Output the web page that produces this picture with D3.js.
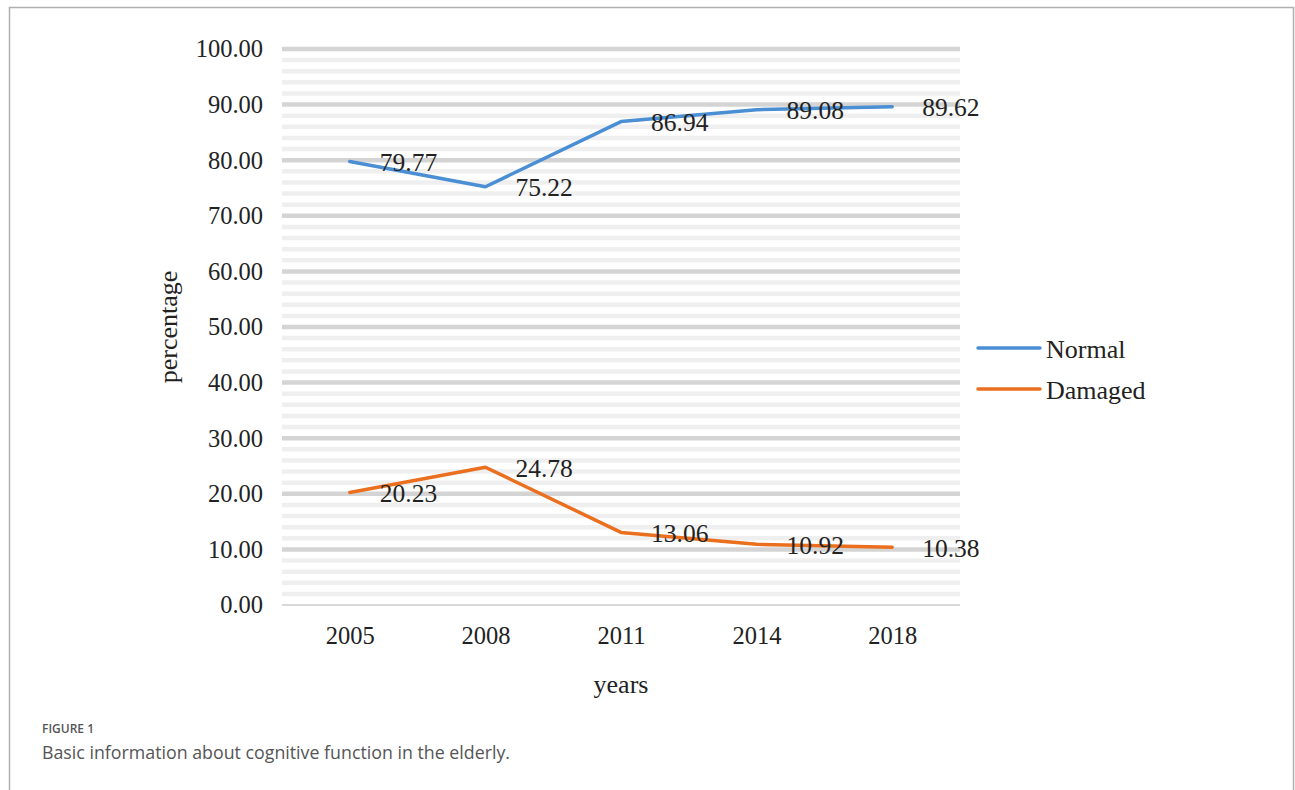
<!DOCTYPE html>
<html>
<head>
<meta charset="utf-8">
<script src="https://cdn.jsdelivr.net/npm/d3@7"></script>
<style>
  body { margin: 0; background: #fff; }
  svg { display: block; }
</style>
</head>
<body>
<div id="chart"></div>
<script>
// data
var years = ["2005", "2008", "2011", "2014", "2018"];
var normal = [79.77, 75.22, 86.94, 89.08, 89.62];
var damaged = [20.23, 24.78, 13.06, 10.92, 10.38];
var seriesNames = ["Normal", "Damaged"];
var yTicks = [0, 10, 20, 30, 40, 50, 60, 70, 80, 90, 100];

var W = 1295, H = 790;
var margin = { left: 282, right: 335, top: 49, bottom: 185 };
var width = W - margin.left - margin.right,
    height = H - margin.top - margin.bottom;
var colors = { normal: "#4a8ed4", damaged: "#ea6f1e" };
var serif = "'Liberation Serif', 'Times New Roman', serif";

var svg = d3.select("#chart").append("svg")
    .attr("width", W).attr("height", H);

// frame around the figure
svg.append("path")
    .attr("d", "M9.5," + (H + 5) + " V7.5 H1293.5 V" + (H + 5))
    .attr("fill", "none").attr("stroke", "#b0b0b0").attr("stroke-width", 1.5);

var g = svg.append("g")
    .attr("transform", "translate(" + margin.left + "," + margin.top + ")");

var x = d3.scalePoint().domain(years).range([0, width]).padding(0.5);
var y = d3.scaleLinear().domain([0, 100]).range([height, 0]);

// minor gridlines every 2, major every 10
var minor = d3.range(2, 100, 2).filter(function (v) { return v % 10 !== 0; });
g.append("g").selectAll("line.minor")
    .data(minor).enter().append("line")
    .attr("x1", 0).attr("x2", width)
    .attr("y1", function (d) { return y(d); })
    .attr("y2", function (d) { return y(d); })
    .attr("stroke", "#efefef").attr("stroke-width", 4.5);
g.append("g").selectAll("line.major")
    .data(yTicks.filter(function (v) { return v > 0; })).enter().append("line")
    .attr("x1", 0).attr("x2", width)
    .attr("y1", function (d) { return y(d); })
    .attr("y2", function (d) { return y(d); })
    .attr("stroke", "#d4d4d4").attr("stroke-width", 4.5);

// baseline
g.append("line")
    .attr("x1", 0).attr("x2", width)
    .attr("y1", y(0)).attr("y2", y(0))
    .attr("stroke", "#d9d9d9").attr("stroke-width", 2);

// Y axis labels
var yAxis = g.append("g")
    .call(d3.axisLeft(y).tickValues(yTicks).tickSize(0).tickPadding(19)
        .tickFormat(d3.format(".2f")));
yAxis.select(".domain").remove();
yAxis.selectAll("text")
    .style("font-family", serif).style("font-size", "24.5px").attr("fill", "#222");

// X axis labels
var xAxis = g.append("g")
    .attr("transform", "translate(0," + height + ")")
    .call(d3.axisBottom(x).tickSize(0).tickPadding(22));
xAxis.select(".domain").remove();
xAxis.selectAll("text")
    .style("font-family", serif).style("font-size", "24.5px").attr("fill", "#222");

// axis titles
g.append("text")
    .attr("x", width / 2).attr("y", height + 88)
    .attr("text-anchor", "middle")
    .style("font-family", serif).style("font-size", "26px").attr("fill", "#222")
    .text("years");
g.append("text")
    .attr("transform", "translate(" + (168 - margin.left) + "," + (327 - margin.top) + ") rotate(-90)")
    .attr("text-anchor", "middle").attr("dominant-baseline", "central")
    .style("font-family", serif).style("font-size", "26px").attr("fill", "#222")
    .text("percentage");

var line = d3.line()
    .x(function (d, i) { return x(years[i]); })
    .y(function (d) { return y(d); });

var series = [
    { name: seriesNames[0], values: normal, color: colors.normal },
    { name: seriesNames[1], values: damaged, color: colors.damaged }
];

series.forEach(function (s) {
    g.append("path")
        .datum(s.values)
        .attr("d", line)
        .attr("fill", "none")
        .attr("stroke", s.color)
        .attr("stroke-width", 3.5)
        .attr("stroke-linejoin", "round")
        .attr("stroke-linecap", "round");
    g.append("g").selectAll("text")
        .data(s.values).enter().append("text")
        .attr("x", function (d, i) { return x(years[i]) + 30; })
        .attr("y", function (d) { return y(d) + 1; })
        .attr("dominant-baseline", "central")
        .style("font-family", serif).style("font-size", "25.5px").attr("fill", "#222")
        .text(function (d) { return d3.format(".2f")(d); });
});

// legend
var legend = svg.append("g").attr("transform", "translate(978,348)");
series.forEach(function (s, i) {
    var row = legend.append("g").attr("transform", "translate(0," + (i * 41) + ")");
    row.append("line")
        .attr("x1", 0).attr("x2", 62).attr("y1", 0).attr("y2", 0)
        .attr("stroke", s.color).attr("stroke-width", 3.5)
        .attr("stroke-linecap", "round");
    row.append("text")
        .attr("x", 68).attr("y", 1)
        .attr("dominant-baseline", "central")
        .style("font-family", serif).style("font-size", "26px").attr("fill", "#222")
        .text(s.name);
});

// caption
svg.append("text")
    .attr("x", 42).attr("y", 733)
    .style("font-family", "'Open Sans', sans-serif").style("font-size", "12px")
    .style("font-weight", "600").attr("fill", "#555")
    .text("FIGURE 1");
svg.append("text")
    .attr("x", 42).attr("y", 759)
    .style("font-family", "'Open Sans', sans-serif").style("font-size", "17.8px")
    .attr("fill", "#555")
    .text("Basic information about cognitive function in the elderly.");
</script>
</body>
</html>
